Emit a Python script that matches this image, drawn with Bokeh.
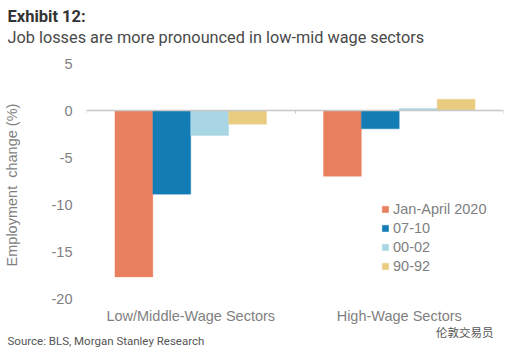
from bokeh.embed import file_html
from bokeh.resources import INLINE
from bokeh.plotting import figure
from bokeh.models import (Range1d, FixedTicker, Title, Legend, LegendItem,
                          LinearAxis, ColumnDataSource)

categories = ["Low/Middle-Wage Sectors", "High-Wage Sectors"]
series_names = ["Jan-April 2020", "07-10", "00-02", "90-92"]
jan_april_2020 = [-17.7, -7.0]
gfc_07_10 = [-8.9, -1.95]
dotcom_00_02 = [-2.65, 0.2]
early_90_92 = [-1.45, 1.2]
y_ticks = [5, 0, -5, -10, -15, -20]
colors = ["#E8805F", "#137CB4", "#A8D6E4", "#EACC80"]

GRAY = "#7f7f7f"
W, H = 504, 352
p = figure(width=W, height=H, output_backend="svg", toolbar_location=None,
           x_range=Range1d(0, 2), y_range=Range1d(-20, 5),
           frame_width=417, frame_height=235,
           min_border_left=86, min_border_right=1, min_border_top=63, min_border_bottom=54,
           outline_line_color=None, background_fill_color="white", border_fill_color="white")
p.grid.visible = False

bar_w = 38 / 209
items = []
for k, (name, vals, c) in enumerate(zip(series_names,
        [jan_april_2020, gfc_07_10, dotcom_00_02, early_90_92], colors)):
    xs = [i + 0.5 + (k - 1.5) * bar_w for i in range(len(categories))]
    src = ColumnDataSource(dict(x=xs, top=vals))
    r = p.vbar(x="x", top="top", bottom=0, width=bar_w, source=src,
               fill_color=c, line_color=c, line_alpha=0.35, line_width=1)
    items.append(LegendItem(label=name, renderers=[r]))

ax = p.xaxis[0]
ax.ticker = FixedTicker(ticks=[0.5, 1.5])
ax.major_label_overrides = {0.5: categories[0], 1.5: categories[1]}
ax.axis_line_color = None
ax.major_tick_line_color = None
ax.minor_tick_line_color = None
ax.major_label_text_font = "Liberation Sans"
ax.major_label_text_font_size = "14.5px"
ax.major_label_text_color = GRAY
ax.major_label_standoff = 3

zero = LinearAxis(fixed_location=0, ticker=FixedTicker(ticks=[0, 1, 2]),
                  major_label_text_font_size="0px", major_label_text_color=None,
                  major_label_standoff=0,
                  axis_line_color="#c8c8c8", axis_line_width=1.5,
                  major_tick_line_color="#c8c8c8", major_tick_in=0, major_tick_out=3,
                  minor_tick_line_color=None)
p.add_layout(zero, "below")

ay = p.yaxis[0]
ay.ticker = FixedTicker(ticks=y_ticks)
ay.major_label_overrides = {t: str(t) for t in y_ticks}
ay.axis_line_color = None
ay.major_tick_line_color = None
ay.minor_tick_line_color = None
ay.major_label_text_font = "Liberation Sans"
ay.major_label_text_font_size = "14.5px"
ay.major_label_text_color = GRAY
ay.major_label_standoff = 8
ay.axis_label = "Employment\u00a0 change (%)\u00a0\u00a0"
ay.axis_label_text_font = "Liberation Sans"
ay.axis_label_text_font_size = "14.5px"
ay.axis_label_text_font_style = "normal"
ay.axis_label_text_color = GRAY
ay.axis_label_standoff = 29

leg = Legend(items=items, location=(295, 24), orientation="vertical",
             background_fill_alpha=0, border_line_color=None,
             glyph_width=8, glyph_height=8, label_standoff=4, spacing=3,
             padding=0, margin=0, label_text_font="Liberation Sans",
             label_text_font_size="14.5px", label_text_color=GRAY, label_height=16)
p.add_layout(leg)

def ttl(side, s, size, color, font="Roboto", style="normal", offset=-79, align="left", standoff=0):
    p.add_layout(Title(text=s, text_font=font, text_font_size=size, text_color=color,
                       text_font_style=style, align=align, offset=offset, standoff=standoff), side)

ttl("above", "Job losses are more pronounced in low-mid wage sectors", "16.3px", "#4a4a4a", standoff=33)
ttl("above", "Exhibit 12:", "16.5px", "#333333", style="bold", standoff=-33)
ttl("below", "伦敦交易员", "11.5px", "#555555", font="Noto Sans CJK SC", align="right", offset=10, standoff=-10)
ttl("below", "Source: BLS, Morgan Stanley Research", "11.5px", "#555555", standoff=-5)

open("out.html", "w").write(file_html(p, INLINE))
